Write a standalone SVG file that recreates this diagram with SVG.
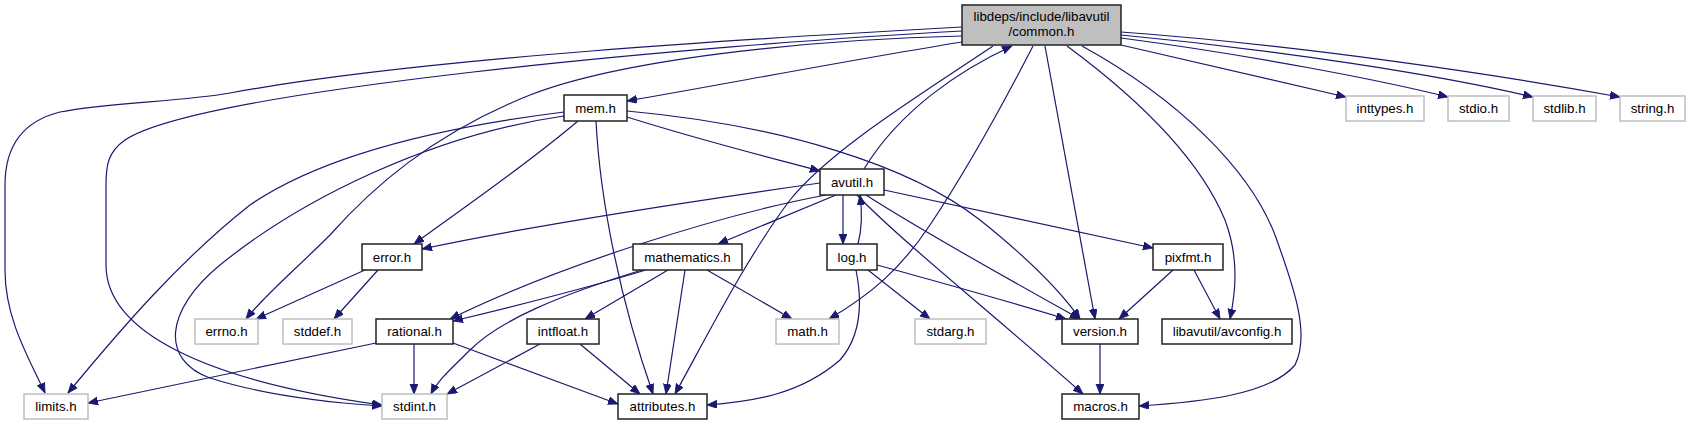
<svg xmlns="http://www.w3.org/2000/svg" width="1698" height="425" viewBox="0 0 1698 425">
<style>
.bg{fill:#ffffff}
.n rect{fill:#ffffff;stroke:#222222;stroke-width:1.5}
.g rect{fill:#ffffff;stroke:#bfbfbf;stroke-width:1.5}
.r rect{fill:#bfbfbf;stroke:#222222;stroke-width:1.5}
text{font-family:"Liberation Sans",Arial,Helvetica,sans-serif;font-size:13.3px;fill:#000000;text-anchor:middle}
.e path{fill:none;stroke:#191970;stroke-width:1.2;marker-end:url(#ah)}
</style>
<defs>
<marker id="ah" markerUnits="userSpaceOnUse" markerWidth="11" markerHeight="9" refX="10" refY="4" orient="auto">
<path d="M0,0 L10,4 L0,8 z" fill="#191970" stroke="#191970" stroke-width="0.8"/>
</marker>
</defs>
<rect class="bg" x="0" y="0" width="1698" height="425"/>
<g id="edges" class="e">
<path d="M962,27 C760,38 420,58 230,93 C180,102 110,102 60,112 C20,122 5,150 5,185 L5,270 C5,320 30,360 45,393"/>
<path d="M962,31 C700,45 200,90 125,140 C108,152 106,165 106,185 L106,265 C106,330 200,380 382,405"/>
<path d="M962,36 C800,40 620,60 530,95 C430,135 370,190 330,235 C295,270 265,295 246,319"/>
<path d="M962,42 C850,60 720,85 627,101"/>
<path d="M993,46 C920,95 830,150 790,200 C745,260 705,340 675,394"/>
<path d="M1033,46 C1000,110 960,180 930,225 C900,270 870,295 829,319"/>
<path d="M1045,46 L1095,319"/>
<path d="M1067,46 C1140,100 1200,160 1225,220 C1240,260 1235,295 1230,319"/>
<path d="M1082,46 C1180,100 1250,170 1275,235 C1295,290 1310,335 1295,365 C1270,395 1200,402 1139,406"/>
<path d="M1121,45 L1346,97"/>
<path d="M1121,38 C1250,55 1380,80 1448,97"/>
<path d="M1121,35 C1280,50 1440,75 1533,97"/>
<path d="M1121,32 C1300,45 1500,75 1620,97"/>
<path d="M564,112 C460,125 330,150 250,205 C180,260 120,330 68,393"/>
<path d="M564,116 C430,135 300,200 220,265 C165,310 160,360 210,378 C260,394 320,402 382,406"/>
<path d="M627,117 C700,140 760,155 820,171"/>
<path d="M627,111 C780,125 910,165 980,220 C1030,260 1060,290 1080,319"/>
<path d="M596,121 C600,200 620,300 653,394"/>
<path d="M578,121 C520,170 460,210 414,244"/>
<path d="M864,169 C900,110 960,70 1012,46"/>
<path d="M820,183 C680,203 520,228 422,249"/>
<path d="M826,195 C720,215 560,265 450,319"/>
<path d="M836,195 L718,244"/>
<path d="M843,195 L843,244"/>
<path d="M858,244 C863,225 862,210 860,195"/>
<path d="M884,190 L1153,248"/>
<path d="M866,195 C920,230 1010,280 1080,319"/>
<path d="M857,195 C900,240 1000,320 1083,394"/>
<path d="M365,270 L256,319"/>
<path d="M378,270 L334,319"/>
<path d="M646,270 C580,290 520,305 453,321"/>
<path d="M642,270 C560,295 500,320 470,350 C450,370 438,380 431,394"/>
<path d="M668,270 L585,319"/>
<path d="M685,270 L666,394"/>
<path d="M707,270 L792,319"/>
<path d="M868,270 L930,319"/>
<path d="M877,265 C950,285 1020,305 1066,319"/>
<path d="M856,270 C862,300 862,335 840,360 C800,395 750,402 707,405"/>
<path d="M1173,270 L1119,319"/>
<path d="M1194,270 L1220,319"/>
<path d="M376,343 L88,403"/>
<path d="M414,344 L414,394"/>
<path d="M453,343 L618,404"/>
<path d="M540,344 L447,394"/>
<path d="M580,344 L640,394"/>
<path d="M1100,344 L1100,394"/>
</g>
<g id="node-common" class="r"><rect x="962" y="5" width="159" height="40"/><text x="1041.5" y="21">libdeps/include/libavutil</text><text x="1041.5" y="36">/common.h</text></g>
<g id="node-mem" class="n"><rect x="564" y="95" width="63" height="26"/><text x="595.5" y="112.5">mem.h</text></g>
<g id="node-inttypes" class="g"><rect x="1346" y="96" width="78" height="25"/><text x="1385" y="113">inttypes.h</text></g>
<g id="node-stdio" class="g"><rect x="1448" y="96" width="61" height="25"/><text x="1478.5" y="113">stdio.h</text></g>
<g id="node-stdlib" class="g"><rect x="1533" y="96" width="63" height="25"/><text x="1564.5" y="113">stdlib.h</text></g>
<g id="node-string" class="g"><rect x="1620" y="96" width="65" height="25"/><text x="1652.5" y="113">string.h</text></g>
<g id="node-avutil" class="n"><rect x="820" y="169" width="64" height="26"/><text x="852" y="186.5">avutil.h</text></g>
<g id="node-error" class="n"><rect x="362" y="244" width="60" height="26"/><text x="392" y="261.5">error.h</text></g>
<g id="node-mathematics" class="n"><rect x="633" y="244" width="109" height="26"/><text x="687.5" y="261.5">mathematics.h</text></g>
<g id="node-log" class="n"><rect x="827" y="244" width="50" height="26"/><text x="852" y="261.5">log.h</text></g>
<g id="node-pixfmt" class="n"><rect x="1153" y="244" width="70" height="26"/><text x="1188" y="261.5">pixfmt.h</text></g>
<g id="node-errno" class="g"><rect x="195" y="319" width="63" height="25"/><text x="226.5" y="336">errno.h</text></g>
<g id="node-stddef" class="g"><rect x="283" y="319" width="69" height="25"/><text x="317.5" y="336">stddef.h</text></g>
<g id="node-rational" class="n"><rect x="376" y="319" width="77" height="25"/><text x="414.5" y="336">rational.h</text></g>
<g id="node-intfloat" class="n"><rect x="527" y="319" width="72" height="25"/><text x="563" y="336">intfloat.h</text></g>
<g id="node-math" class="g"><rect x="776" y="319" width="63" height="25"/><text x="807.5" y="336">math.h</text></g>
<g id="node-stdarg" class="g"><rect x="915" y="319" width="71" height="25"/><text x="950.5" y="336">stdarg.h</text></g>
<g id="node-version" class="n"><rect x="1062" y="319" width="76" height="25"/><text x="1100" y="336">version.h</text></g>
<g id="node-avconfig" class="n"><rect x="1162" y="319" width="130" height="25"/><text x="1227" y="336">libavutil/avconfig.h</text></g>
<g id="node-limits" class="g"><rect x="24" y="394" width="64" height="25"/><text x="56" y="411">limits.h</text></g>
<g id="node-stdint" class="g"><rect x="382" y="394" width="65" height="25"/><text x="414.5" y="411">stdint.h</text></g>
<g id="node-attributes" class="n"><rect x="618" y="394" width="89" height="25"/><text x="662.5" y="411">attributes.h</text></g>
<g id="node-macros" class="n"><rect x="1062" y="394" width="77" height="25"/><text x="1100.5" y="411">macros.h</text></g>
</svg>
